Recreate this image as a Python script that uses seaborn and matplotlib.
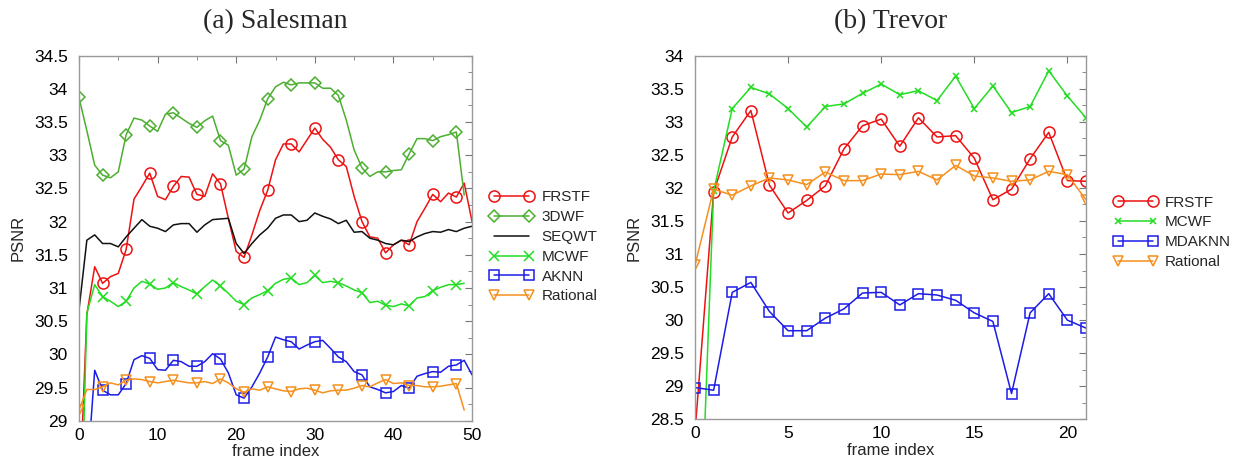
import matplotlib
matplotlib.use('Agg')
import matplotlib.pyplot as plt
import seaborn as sns
from matplotlib.ticker import MultipleLocator, FormatStrFormatter

# Salesman data (frames 0..50)
salesman_frstf = [27.6, 30.6, 31.32, 31.07, 31.17, 31.22, 31.58, 32.34, 32.53, 32.73, 32.38, 32.33, 32.53, 32.68, 32.67, 32.41, 32.38, 32.72, 32.57, 32.05, 31.55, 31.46, 31.8, 32.17, 32.47, 32.93, 33.17, 33.17, 33.05, 33.23, 33.41, 33.24, 33.12, 32.93, 32.83, 32.38, 32.0, 31.77, 31.75, 31.53, 31.65, 31.72, 31.65, 32.0, 32.2, 32.41, 32.3, 32.43, 32.37, 32.58, 32.0]
salesman_3dwf = [33.87, 33.37, 32.85, 32.70, 32.66, 32.75, 33.31, 33.56, 33.53, 33.44, 33.36, 33.62, 33.64, 33.56, 33.48, 33.42, 33.52, 33.59, 33.22, 33.15, 32.70, 32.79, 33.28, 33.53, 33.85, 34.03, 34.10, 34.06, 34.09, 34.09, 34.09, 34.01, 34.01, 33.90, 33.53, 33.08, 32.81, 32.68, 32.75, 32.75, 32.77, 32.78, 33.02, 33.25, 33.25, 33.22, 33.28, 33.31, 33.35, 32.40]
salesman_seqwt = [30.67, 31.72, 31.80, 31.67, 31.67, 31.62, 31.77, 31.9, 32.03, 31.93, 31.9, 31.85, 31.95, 31.97, 31.97, 31.84, 31.95, 32.03, 32.04, 32.05, 31.67, 31.52, 31.67, 31.8, 31.9, 32.05, 32.1, 32.1, 32.0, 32.02, 32.13, 32.08, 32.04, 31.97, 32.02, 31.84, 31.85, 31.75, 31.72, 31.67, 31.65, 31.72, 31.7, 31.77, 31.82, 31.85, 31.84, 31.88, 31.85, 31.9, 31.93]
salesman_mcwf = [26.1, 30.62, 31.05, 30.87, 30.80, 30.72, 30.80, 31.0, 31.1, 31.06, 30.98, 31.0, 31.08, 31.02, 30.97, 30.91, 31.02, 31.12, 31.03, 30.92, 30.8, 30.75, 30.85, 30.9, 30.96, 31.07, 31.13, 31.15, 31.05, 31.08, 31.19, 31.08, 31.1, 31.08, 31.03, 30.97, 30.93, 30.78, 30.80, 30.74, 30.72, 30.76, 30.73, 30.85, 30.87, 30.96, 31.01, 31.05, 31.05, 31.07]
salesman_aknn = [28.0, 28.13, 29.76, 29.46, 29.39, 29.39, 29.56, 29.92, 29.98, 29.94, 29.77, 29.76, 29.91, 29.89, 29.82, 29.82, 29.89, 30.01, 29.93, 29.72, 29.39, 29.34, 29.51, 29.72, 29.96, 30.26, 30.22, 30.19, 30.08, 30.14, 30.19, 30.21, 30.09, 29.96, 29.89, 29.74, 29.69, 29.51, 29.47, 29.42, 29.44, 29.53, 29.49, 29.67, 29.71, 29.74, 29.73, 29.82, 29.84, 29.91, 29.69]
salesman_rational = [29.16, 29.47, 29.47, 29.51, 29.57, 29.54, 29.61, 29.63, 29.62, 29.59, 29.57, 29.59, 29.61, 29.59, 29.57, 29.57, 29.59, 29.56, 29.63, 29.57, 29.48, 29.43, 29.48, 29.46, 29.51, 29.48, 29.45, 29.44, 29.48, 29.49, 29.46, 29.42, 29.45, 29.46, 29.46, 29.49, 29.53, 29.51, 29.57, 29.62, 29.56, 29.57, 29.53, 29.53, 29.51, 29.51, 29.52, 29.54, 29.56, 29.16]

# Trevor data (frames 0..21)
trevor_frstf = [28.3, 31.94, 32.77, 33.17, 32.04, 31.62, 31.81, 32.03, 32.59, 32.94, 33.04, 32.63, 33.06, 32.77, 32.79, 32.45, 31.82, 31.98, 32.44, 32.84, 32.11, 32.10]
trevor_mcwf = [24.5, 31.95, 33.20, 33.52, 33.42, 33.20, 32.92, 33.23, 33.27, 33.43, 33.57, 33.41, 33.47, 33.32, 33.69, 33.20, 33.54, 33.14, 33.23, 33.77, 33.39, 33.06]
trevor_mdaknn = [28.98, 28.94, 30.42, 30.57, 30.13, 29.84, 29.84, 30.03, 30.17, 30.41, 30.42, 30.23, 30.40, 30.38, 30.30, 30.11, 29.98, 28.89, 30.11, 30.40, 30.00, 29.88]
trevor_rational = [30.83, 31.98, 31.89, 32.03, 32.15, 32.12, 32.05, 32.24, 32.11, 32.11, 32.21, 32.20, 32.25, 32.12, 32.34, 32.18, 32.15, 32.10, 32.12, 32.25, 32.20, 31.82]

RED = '#ee1111'
DARKGREEN = '#4caf30'
GREEN = '#22dd22'
BLUE = '#1c1ce6'
ORANGE = '#f5901e'

sns.set_style('white')
plt.rcParams['font.family'] = ['Liberation Sans', 'DejaVu Sans']

fig = plt.figure(figsize=(12.38, 4.66), dpi=100)
ax1 = fig.add_axes([0.0638, 0.0972, 0.3175, 0.7833])
ax2 = fig.add_axes([0.5614, 0.1002, 0.3158, 0.7804])


def draw(ax, y, label, color, marker, ms, every=1):
    x = list(range(len(y)))
    sns.lineplot(x=x, y=y, ax=ax, color=color, label=label, linewidth=1.1,
                 marker=marker, markersize=ms, markevery=every,
                 markerfacecolor='none', markeredgecolor=color, markeredgewidth=1.1)


draw(ax1, salesman_frstf, 'FRSTF', RED, 'o', 8, 3)
draw(ax1, salesman_3dwf, '3DWF', DARKGREEN, 'D', 6.5, 3)
draw(ax1, salesman_seqwt, 'SEQWT', '#111111', None, 0)
draw(ax1, salesman_mcwf, 'MCWF', GREEN, 'x', 6.5, 3)
draw(ax1, salesman_aknn, 'AKNN', BLUE, 's', 6.5, 3)
draw(ax1, salesman_rational, 'Rational', ORANGE, 'v', 7.5, 3)

draw(ax2, trevor_frstf, 'FRSTF', RED, 'o', 8)
draw(ax2, trevor_mcwf, 'MCWF', GREEN, 'x', 5)
draw(ax2, trevor_mdaknn, 'MDAKNN', BLUE, 's', 7.5)
draw(ax2, trevor_rational, 'Rational', ORANGE, 'v', 7.5)

ax1.set_xlim(0, 50)
ax1.set_ylim(29, 34.5)
ax1.xaxis.set_major_locator(MultipleLocator(10))
ax1.xaxis.set_minor_locator(MultipleLocator(5))
ax1.yaxis.set_major_locator(MultipleLocator(0.5))
ax1.yaxis.set_minor_locator(MultipleLocator(0.25))

ax2.set_xlim(0, 21)
ax2.set_ylim(28.5, 34)
ax2.xaxis.set_major_locator(MultipleLocator(5))
ax2.yaxis.set_major_locator(MultipleLocator(0.5))
ax2.yaxis.set_minor_locator(MultipleLocator(0.25))

for ax, title, anchor in [(ax1, '(a) Salesman', (1.045, 0.476)), (ax2, '(b) Trevor', (1.069, 0.514))]:
    ax.yaxis.set_major_formatter(FormatStrFormatter('%g'))
    ax.tick_params(which='both', direction='in', top=True, right=True,
                   colors='#777777', labelcolor='black', labelsize=12.5)
    ax.tick_params(which='major', length=5)
    ax.tick_params(which='minor', length=3)
    ax.tick_params(axis='y', pad=8)
    ax.tick_params(axis='x', pad=5)
    for s in ax.spines.values():
        s.set_color('#999999')
        s.set_linewidth(1.0)
    ax.set_xlabel('frame index', fontsize=12, labelpad=1)
    ax.set_ylabel('PSNR', fontsize=12, labelpad=6)
    ax.set_title(title, fontsize=20, family='Liberation Serif', pad=20)
    ax.legend(loc='center left', bbox_to_anchor=anchor, frameon=False,
              borderaxespad=0, borderpad=0, numpoints=2, fontsize=11,
              handlelength=2.9, handletextpad=0.5, labelspacing=0.38)

fig.savefig('out.png', dpi=100)
